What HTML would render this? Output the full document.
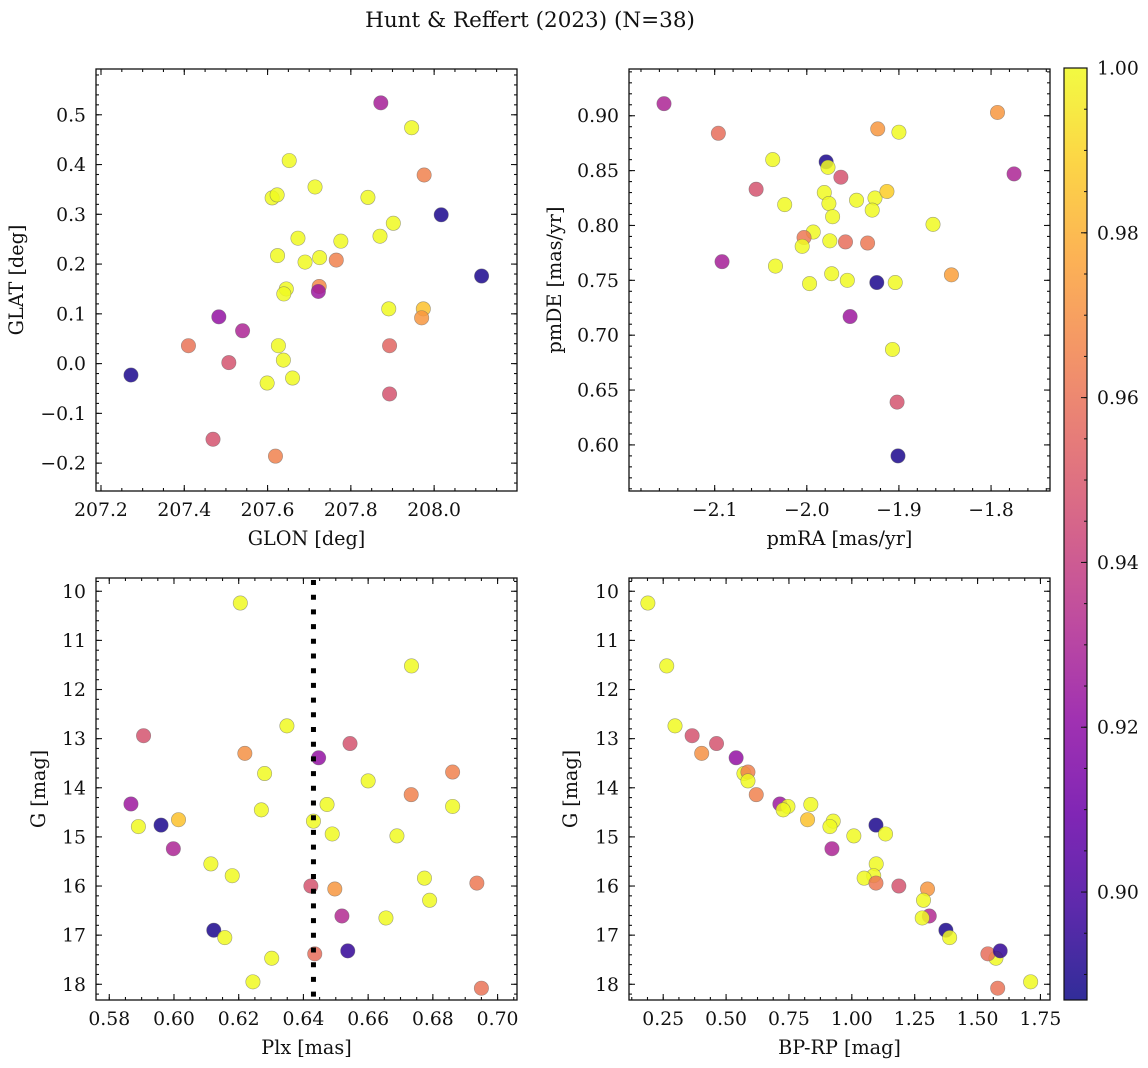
<!DOCTYPE html>
<html><head><meta charset="utf-8"><style>
html,body{margin:0;padding:0;background:#fff;}
svg{display:block;font-family:"DejaVu Serif","Liberation Serif",serif;}
</style></head><body>
<svg id="fig" width="1148" height="1068" viewBox="0 0 1148 1068" xmlns="http://www.w3.org/2000/svg">
<text x="530" y="27" font-size="21.5" text-anchor="middle" fill="#111">Hunt &amp; Reffert (2023) (N=38)</text>
</svg>
<script>
// ---- Panel 1: sky positions ----
const glon = [207.272,207.410,207.483,207.507,207.540,207.469,207.619,207.599,207.626,207.638,207.660,207.611,207.623,207.652,207.624,207.645,207.639,207.673,207.690,207.714,207.725,207.724,207.722,207.765,207.776,207.841,207.872,207.946,207.976,207.870,207.902,207.891,207.974,207.970,207.893,207.893,208.017,208.114];
const glat = [-0.023,0.036,0.094,0.002,0.066,-0.152,-0.186,-0.039,0.036,0.007,-0.029,0.333,0.339,0.408,0.217,0.150,0.140,0.252,0.204,0.355,0.213,0.155,0.145,0.208,0.246,0.334,0.524,0.474,0.379,0.256,0.282,0.110,0.110,0.092,0.036,-0.061,0.299,0.176];
const prob1 = [0.89,0.96,0.922,0.948,0.93,0.948,0.965,1,1,1,1,1,1,1,1,1,1,1,1,1,1,0.968,0.925,0.965,1,1,0.928,1,0.965,1,1,1,0.985,0.972,0.955,0.948,0.89,0.89];
// ---- Panel 2: proper motions ----
const pmra = [-2.155,-2.096,-2.037,-2.055,-2.024,-1.979,-1.977,-1.963,-1.981,-1.976,-1.972,-1.946,-1.926,-1.929,-1.913,-1.923,-1.900,-1.793,-1.775,-1.863,-1.993,-2.003,-2.005,-2.034,-2.092,-1.975,-1.958,-1.934,-1.973,-1.956,-1.997,-1.924,-1.904,-1.843,-1.953,-1.907,-1.902,-1.901];
const pmde = [0.911,0.884,0.860,0.833,0.819,0.858,0.853,0.844,0.830,0.820,0.808,0.823,0.825,0.814,0.831,0.888,0.885,0.903,0.847,0.801,0.794,0.789,0.781,0.763,0.767,0.786,0.785,0.784,0.756,0.750,0.747,0.748,0.748,0.755,0.717,0.687,0.639,0.590];
const prob2 = [0.93,0.958,1,0.948,1,0.89,1,0.948,1,1,1,1,1,1,0.988,0.972,1,0.972,0.93,1,1,0.962,1,1,0.928,1,0.958,0.962,1,1,1,0.89,1,0.975,0.925,1,0.948,0.89];
// ---- Panels 3/4: photometry & parallax ----
const plx = [0.6205,0.6734,0.6349,0.5906,0.6544,0.6219,0.6447,0.6280,0.6861,0.6600,0.5867,0.6733,0.6473,0.6861,0.6270,0.6014,0.6431,0.5890,0.5960,0.6489,0.6689,0.5998,0.6114,0.6180,0.6774,0.6936,0.6423,0.6497,0.6790,0.6519,0.6655,0.6123,0.6157,0.6302,0.6435,0.6537,0.6244,0.6950];
const gmag = [10.24,11.52,12.74,12.94,13.10,13.30,13.39,13.71,13.68,13.86,14.33,14.14,14.34,14.38,14.45,14.65,14.68,14.79,14.76,14.94,14.98,15.24,15.55,15.79,15.84,15.94,16.00,16.06,16.29,16.61,16.65,16.90,17.05,17.47,17.38,17.32,17.95,18.08];
const bprp = [0.189,0.264,0.297,0.365,0.462,0.403,0.540,0.571,0.587,0.587,0.714,0.620,0.837,0.746,0.727,0.824,0.926,0.913,1.096,1.134,1.008,0.921,1.097,1.087,1.049,1.096,1.187,1.301,1.285,1.308,1.280,1.374,1.389,1.573,1.541,1.590,1.711,1.580];
const prob34 = [1,1,1,0.948,0.948,0.97,0.922,1,0.965,1,0.925,0.965,1,1,1,0.985,1,1,0.89,1,1,0.93,1,1,1,0.962,0.948,0.972,1,0.932,1,0.89,1,1,0.958,0.895,1,0.96];
const plxRef = [0.6431];
// tick labels
const t1x = [207.2,207.4,207.6,207.8,208.0], t1y = [-0.2,-0.1,0.0,0.1,0.2,0.3,0.4,0.5];
const t2x = [-2.1,-2.0,-1.9,-1.8], t2y = [0.60,0.65,0.70,0.75,0.80,0.85,0.90];
const t3x = [0.58,0.60,0.62,0.64,0.66,0.68,0.70], tGy = [10,11,12,13,14,15,16,17,18];
const t4x = [0.25,0.50,0.75,1.00,1.25,1.50,1.75];
const cbTicks = [0.90,0.92,0.94,0.96,0.98,1.00];
const VMIN = 0.8869, VMAX = 1.0;

const NS = "http://www.w3.org/2000/svg";
const fig = document.getElementById('fig');
const FS = 18.8, LFS = 19.2;
function mk(tag, attrs, parent){const e=document.createElementNS(NS,tag);for(const k in attrs)e.setAttribute(k,attrs[k]);(parent||fig).appendChild(e);return e;}
const PL = [[13,8,135],[65,4,157],[106,0,168],[143,13,164],[177,42,144],[204,71,120],[225,100,98],[242,132,75],[252,166,54],[252,206,37],[240,249,33]];
function plasma(t){t=Math.max(0,Math.min(1,t))*10;const i=Math.min(9,Math.floor(t)),f=t-i;const a=PL[i],b=PL[i+1];return 'rgb('+a.map((v,k)=>Math.round(v+(b[k]-v)*f)).join(',')+')';}
function colorOf(p){return plasma((p-VMIN)/(VMAX-VMIN));}
function fmt(v,d){const s=Math.abs(v).toFixed(d);return (v<0?'\u2212':'')+s;}

function panel(name,box,xd,yd,xt,yt,xdec,ydec,xminor,yminor,xlabel,ylabel,ylabX){
  const g = mk('g',{});
  
  
  const sx=v=>box.x0+(v-xd[0])/(xd[1]-xd[0])*(box.x1-box.x0);
  const sy=v=>box.y1-(v-yd[0])/(yd[1]-yd[0])*(box.y1-box.y0);
  const ticks = mk('g',{stroke:'#111','stroke-width':1.1},g);
  
  
  const lo=Math.min(xd[0],xd[1]),hi=Math.max(xd[0],xd[1]);
  for(let v=Math.ceil(lo/xminor-1e-6)*xminor; v<=hi+1e-9; v+=xminor){const x=sx(v);mk('line',{x1:x,x2:x,y1:box.y1,y2:box.y1-3},ticks);mk('line',{x1:x,x2:x,y1:box.y0,y2:box.y0+3},ticks);}
  const ylo=Math.min(yd[0],yd[1]),yhi=Math.max(yd[0],yd[1]);
  for(let v=Math.ceil(ylo/yminor-1e-6)*yminor; v<=yhi+1e-9; v+=yminor){const y=sy(v);mk('line',{x1:box.x0,x2:box.x0+3,y1:y,y2:y},ticks);mk('line',{x1:box.x1,x2:box.x1-3,y1:y,y2:y},ticks);}
  xt.forEach(v=>{const x=sx(v);mk('line',{x1:x,x2:x,y1:box.y1,y2:box.y1-6},ticks);mk('line',{x1:x,x2:x,y1:box.y0,y2:box.y0+6},ticks);
    const t=mk('text',{x:x,y:box.y1+25,'font-size':FS,'text-anchor':'middle',fill:'#111'},g);t.textContent=fmt(v,xdec);
    
    });
  yt.forEach(v=>{const y=sy(v);mk('line',{x1:box.x0,x2:box.x0+6,y1:y,y2:y},ticks);mk('line',{x1:box.x1,x2:box.x1-6,y1:y,y2:y},ticks);
    const t=mk('text',{x:box.x0-10,y:y+6.5,'font-size':FS,'text-anchor':'end',fill:'#111'},g);t.textContent=fmt(v,ydec);
    
    });
  const xl=mk('text',{x:(box.x0+box.x1)/2,y:box.y1+54,'font-size':LFS,'text-anchor':'middle',fill:'#111'},g);xl.textContent=xlabel;
  
  
  const cy=(box.y0+box.y1)/2;
  const yl=mk('text',{x:ylabX,y:cy,'font-size':LFS,'text-anchor':'middle',fill:'#111',transform:'rotate(-90 '+ylabX+' '+cy+')'},g);yl.textContent=ylabel;
  
  
  return {g,sx,sy,box};
}
function scatter(P,xs,ys,ps,name){
  const layer=mk('g',{},P.g);
  
  
  xs.forEach((xv,i)=>{const c=mk('circle',{cx:P.sx(xv),cy:P.sy(ys[i]),r:7.2,fill:colorOf(ps[i]),'fill-opacity':0.85,stroke:'#666','stroke-opacity':0.6,'stroke-width':0.6},layer);
    
    });
}
function frame(P){const r=mk('rect',{x:P.box.x0,y:P.box.y0,width:P.box.x1-P.box.x0,height:P.box.y1-P.box.y0,fill:'none',stroke:'#111','stroke-width':1.3},P.g);
  
  }

const P1=panel('panel-sky',{x0:96,x1:517,y0:69,y1:491},[207.188,208.199],[-0.256,0.592],t1x,t1y,1,1,0.05,0.02,'GLON [deg]','GLAT [deg]',23);
scatter(P1,glon,glat,prob1,'sky-points');frame(P1);
const P2=panel('panel-proper-motion',{x0:629,x1:1050,y0:69,y1:491},[-2.193,-1.736],[0.558,0.9426],t2x,t2y,1,2,0.02,0.01,'pmRA [mas/yr]','pmDE [mas/yr]',561);
scatter(P2,pmra,pmde,prob2,'pm-points');frame(P2);
const P3=panel('panel-parallax-mag',{x0:96,x1:517,y0:578,y1:1000},[0.5759,0.7060],[18.32,9.73],t3x,tGy,2,0,0.005,0.2,'Plx [mas]','G [mag]',45);
scatter(P3,plx,gmag,prob34,'plx-points');
const ref=mk('line',{x1:P3.sx(plxRef[0]),x2:P3.sx(plxRef[0]),y1:580,y2:1000,stroke:'#000','stroke-width':5,'stroke-dasharray':'5 9.7'},P3.g);


frame(P3);
const P4=panel('panel-cmd',{x0:629,x1:1050,y0:578,y1:1000},[0.114,1.788],[18.32,9.73],t4x,tGy,2,0,0.0625,0.2,'BP-RP [mag]','G [mag]',577);
scatter(P4,bprp,gmag,prob34,'cmd-points');frame(P4);

// colorbar
const cb=mk('g',{});


const defs=mk('defs',{},cb);
const lg=mk('linearGradient',{id:'plg',x1:0,y1:1,x2:0,y2:0},defs);
for(let i=0;i<=20;i++){mk('stop',{offset:(i/20),'stop-color':plasma(i/20),'stop-opacity':0.85},lg);}
const cbx0=1064,cbx1=1087,cby0=68,cby1=1000;
mk('rect',{x:cbx0,y:cby0,width:cbx1-cbx0,height:cby1-cby0,fill:'url(#plg)',stroke:'#111','stroke-width':1.2},cb);
const cbs=v=>cby1-(v-VMIN)/(VMAX-VMIN)*(cby1-cby0);
for(let v=0.89;v<=1.0001;v+=0.005){const y=cbs(v);mk('line',{x1:cbx1,x2:cbx1-3,y1:y,y2:y,stroke:'#111'},cb);}
cbTicks.forEach(v=>{const y=cbs(v);mk('line',{x1:cbx1,x2:cbx1-6,y1:y,y2:y,stroke:'#111'},cb);
  const t=mk('text',{x:cbx1+10,y:y+6.5,'font-size':FS,fill:'#111'},cb);t.textContent=v.toFixed(2);
  
  });
</script>
</body></html>
